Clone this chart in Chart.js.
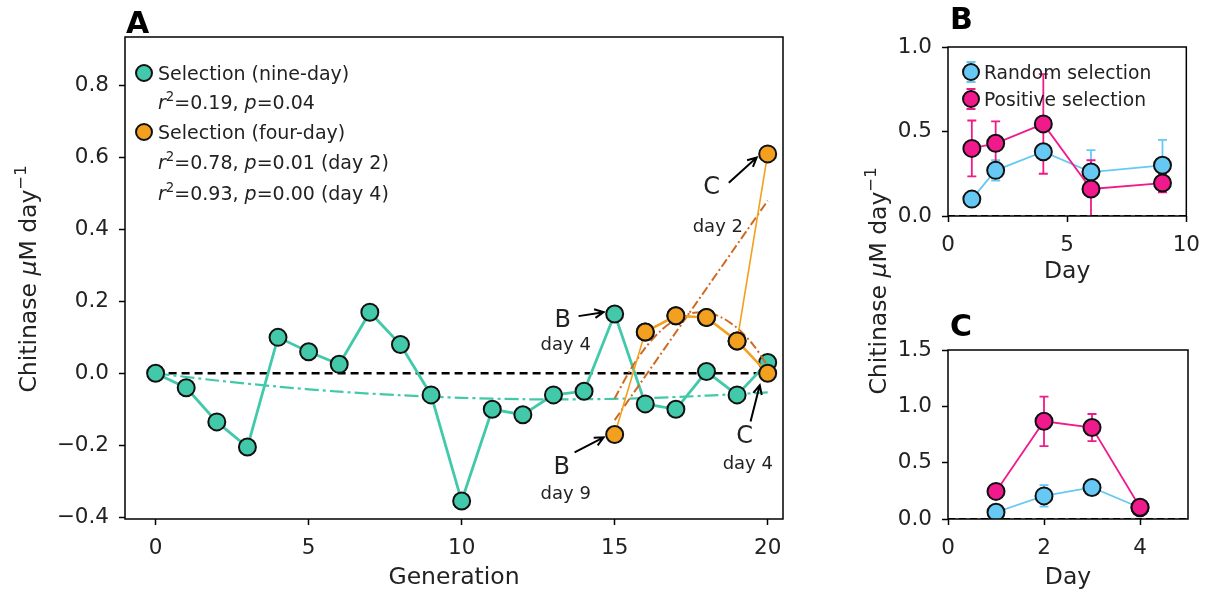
<!DOCTYPE html>
<html><head><meta charset="utf-8">
<script src="https://cdn.jsdelivr.net/npm/chart.js@4.4.1/dist/chart.umd.min.js"></script>
<style>
html,body{margin:0;padding:0;background:#fff;width:1211px;height:594px;overflow:hidden}
#wrap{position:relative;width:1211px;height:594px;background:#fff}
canvas{position:absolute}
</style></head><body>
<div id="wrap">
<canvas id="cA" width="1211" height="594" style="left:0;top:0"></canvas>
<canvas id="cB" width="331" height="297" style="left:880px;top:0"></canvas>
<canvas id="cC" width="331" height="297" style="left:880px;top:297px"></canvas>
</div>
<script>
// ---------------- data (panel A) ----------------
const generations = [0,1,2,3,4,5,6,7,8,9,10,11,12,13,14,15,16,17,18,19,20];
const nineDay = [0.0,-0.04,-0.135,-0.205,0.10,0.06,0.025,0.17,0.08,-0.06,-0.355,-0.10,-0.115,-0.06,-0.05,0.165,-0.085,-0.10,0.005,-0.06,0.03];
const nineFitGen = [0,2,4,6,8,10,12,14,16,18,20];
const nineFit = [0.0,-0.02,-0.037,-0.051,-0.061,-0.068,-0.072,-0.072,-0.069,-0.062,-0.053];
const fourDay2Gen = [15,16,17,18,19,20];
const fourDay2 = [-0.17,0.115,0.16,0.155,0.09,0.61];
const fourDay4Gen = [16,17,18,19,20];
const fourDay4 = [0.115,0.16,0.155,0.09,0.0];
const day2FitGen = [15,20];
const day2Fit = [-0.13,0.48];
const day4FitGen = [15,15.5,16,16.5,17,17.5,18,18.5,19,19.5,20];
const day4Fit = [-0.07,0.008,0.071,0.118,0.15,0.167,0.169,0.155,0.126,0.082,0.022];
const zeroGen = [0,20];
const zeroVal = [0,0];
const xTicksA = [0,5,10,15,20];
const yTicksA = [-0.4,-0.2,0.0,0.2,0.4,0.6,0.8];
// ---------------- data (panel B) ----------------
const daysB = [1,2,4,6,9];
const randomB = [0.10,0.27,0.38,0.26,0.30];
const randomBErr = [0.02,0.06,0.04,0.13,0.15];
const positiveB = [0.40,0.43,0.545,0.16,0.195];
const positiveBErr = [0.165,0.13,0.295,0.17,0.055];
const xTicksB = [0,5,10];
const yTicksB = [0.0,0.5,1.0];
// ---------------- data (panel C) ----------------
const daysC = [1,2,3,4];
const randomC = [0.06,0.205,0.28,0.10];
const randomCErr = [0.02,0.095,0.05,0.02];
const positiveC = [0.245,0.867,0.812,0.104];
const positiveCErr = [0.03,0.22,0.12,0.02];
const xTicksC = [0,2,4];
const yTicksC = [0.0,0.5,1.0,1.5];

// ---------------- styles ----------------
const FAM = '"DejaVu Sans", "Liberation Sans", sans-serif';
const GREEN = '#42c9aa', ORANGE = '#f3a01e', FITOR = '#cf6a25';
const PINK = '#f01a8c', BLUE = '#66c9f4';
const TXT = '#222';
const LABEL_SIZE = 23.5;

function fmt1(v){ const a = Math.abs(v) < 1e-9 ? 0 : v; return (a < 0 ? '\u2212' : '') + Math.abs(a).toFixed(1); }
function pts(xs, ys){ return xs.map((x,i)=>({x:x, y:ys[i]})); }

function fontStr(size, italic, bold){ return (italic?'italic ':'') + (bold?'bold ':'') + size + 'px ' + FAM; }
function measureRich(ctx, segs, size){
  let w = 0;
  for (const s of segs){ ctx.font = fontStr(s.s ? size*0.7 : size, s.i); w += ctx.measureText(s.t).width; }
  return w;
}
function drawRich(ctx, segs, x, y, size, align){
  const w = measureRich(ctx, segs, size);
  let cx = align === 'center' ? x - w/2 : x;
  const base = y + size*0.365;
  ctx.textBaseline = 'alphabetic'; ctx.textAlign = 'left';
  for (const s of segs){
    const sz = s.s ? size*0.7 : size;
    ctx.font = fontStr(sz, s.i);
    ctx.fillText(s.t, cx, s.s ? base - size*0.42 : base);
    cx += ctx.measureText(s.t).width;
  }
}
function arrow(ctx, x1, y1, x2, y2){
  const ang = Math.atan2(y2-y1, x2-x1), L = 10, sp = 0.45;
  ctx.beginPath(); ctx.moveTo(x1,y1); ctx.lineTo(x2,y2);
  ctx.moveTo(x2 - L*Math.cos(ang-sp), y2 - L*Math.sin(ang-sp)); ctx.lineTo(x2,y2);
  ctx.lineTo(x2 - L*Math.cos(ang+sp), y2 - L*Math.sin(ang+sp));
  ctx.stroke();
}
function marker(ctx, x, y, r, fill){
  ctx.beginPath(); ctx.arc(x,y,r,0,Math.PI*2); ctx.fillStyle = fill; ctx.fill();
  ctx.lineWidth = 2; ctx.strokeStyle = '#111'; ctx.stroke();
}
const yLabelSegs = [{t:'Chitinase '},{t:'\u03bc',i:1},{t:'M day'},{t:'\u22121',s:1}];

function axisOpts(min, max, tickArr, isX, fitSize, title, titlePad){
  return {
    type:'linear', min:min, max:max,
    afterBuildTicks: s => { s.ticks = tickArr.map(v=>({value:v})); },
    afterFit: s => { if (isX) s.height = fitSize; else s.width = fitSize; },
    grid:{display:true, drawOnChartArea:false, drawTicks:true, tickLength:6, tickColor:'#000', tickWidth:1.5},
    border:{display:false},
    ticks:{font:{family:FAM, size:21.5}, color:TXT, padding: isX ? 11 : 10, maxRotation:0, autoSkip:false,
      callback: v => isX ? String(v) : fmt1(v)},
    title: title ? {display:true, text:title, color:TXT, font:{family:FAM, size:LABEL_SIZE}, padding:{top:0,bottom:titlePad}} : {display:false}
  };
}

// ---------------- panel A ----------------
const annText = [
  {t:'B', x:13.3, y:0.153, size:24}, {t:'day 4', x:13.4, y:0.084, size:18},
  {t:'B', x:13.27, y:-0.256, size:24}, {t:'day 9', x:13.4, y:-0.331, size:18},
  {t:'C', x:18.17, y:0.524, size:24}, {t:'day 2', x:18.37, y:0.41, size:18},
  {t:'C', x:19.25, y:-0.17, size:24}, {t:'day 4', x:19.35, y:-0.248, size:18}
];
const annArrows = [[13.82,0.159,14.64,0.17],[13.69,-0.22,14.64,-0.178],[18.73,0.53,19.64,0.60],[19.44,-0.134,19.74,-0.033]];

const pluginA = {
  id:'pA',
  afterDraw(chart){
    const {ctx, chartArea:a, scales:{x, y}} = chart;
    ctx.save();
    ctx.strokeStyle = '#000'; ctx.lineWidth = 1.5;
    ctx.strokeRect(a.left, a.top, a.right-a.left, a.bottom-a.top);
    // panel letter
    ctx.fillStyle = '#000'; ctx.font = fontStr(30,false,true); ctx.textAlign='left'; ctx.textBaseline='alphabetic';
    ctx.fillText('A', 126, 33);
    // legend
    marker(ctx, 144, 73, 8, GREEN);
    marker(ctx, 144, 132, 8, ORANGE);
    ctx.fillStyle = TXT;
    drawRich(ctx, [{t:'Selection (nine-day)'}], 158, 73, 19, 'left');
    drawRich(ctx, [{t:'r',i:1},{t:'2',s:1},{t:'=0.19, '},{t:'p',i:1},{t:'=0.04'}], 158, 102, 19, 'left');
    drawRich(ctx, [{t:'Selection (four-day)'}], 158, 132, 19, 'left');
    drawRich(ctx, [{t:'r',i:1},{t:'2',s:1},{t:'=0.78, '},{t:'p',i:1},{t:'=0.01 (day 2)'}], 158, 162, 19, 'left');
    drawRich(ctx, [{t:'r',i:1},{t:'2',s:1},{t:'=0.93, '},{t:'p',i:1},{t:'=0.00 (day 4)'}], 158, 193, 19, 'left');
    // annotations
    for (const an of annText){
      drawRich(ctx, [{t:an.t}], x.getPixelForValue(an.x), y.getPixelForValue(an.y), an.size, 'center');
    }
    ctx.strokeStyle = '#000'; ctx.lineWidth = 2;
    for (const ar of annArrows){
      arrow(ctx, x.getPixelForValue(ar[0]), y.getPixelForValue(ar[1]), x.getPixelForValue(ar[2]), y.getPixelForValue(ar[3]));
    }
    // y labels (rotated)
    ctx.fillStyle = TXT;
    ctx.save(); ctx.translate(27, 279); ctx.rotate(-Math.PI/2); drawRich(ctx, yLabelSegs, 0, 0, LABEL_SIZE, 'center'); ctx.restore();
    ctx.save(); ctx.translate(877, 281); ctx.rotate(-Math.PI/2); drawRich(ctx, yLabelSegs, 0, 0, LABEL_SIZE, 'center'); ctx.restore();
    ctx.restore();
  }
};

new Chart(document.getElementById('cA'), {
  type:'scatter',
  data:{datasets:[
    {label:'Selection (four-day) day 4', data:pts(fourDay4Gen, fourDay4), showLine:true, borderColor:ORANGE, borderWidth:2.6,
      pointRadius:8.5, pointBackgroundColor:ORANGE, pointBorderColor:'#111', pointBorderWidth:2},
    {label:'Selection (four-day) day 2', data:pts(fourDay2Gen, fourDay2), showLine:true, borderColor:ORANGE, borderWidth:1.6,
      pointRadius:8.5, pointBackgroundColor:ORANGE, pointBorderColor:'#111', pointBorderWidth:2},
    {label:'fit day 4', data:pts(day4FitGen, day4Fit), showLine:true, borderColor:FITOR, borderWidth:2, borderDash:[9,3,2,3], pointRadius:0, tension:0.3},
    {label:'fit day 2', data:pts(day2FitGen, day2Fit), showLine:true, borderColor:FITOR, borderWidth:2, borderDash:[9,3,2,3], pointRadius:0},
    {label:'Selection (nine-day)', data:pts(generations, nineDay), showLine:true, borderColor:GREEN, borderWidth:2.8,
      pointRadius:8.5, pointBackgroundColor:GREEN, pointBorderColor:'#111', pointBorderWidth:2},
    {label:'fit nine-day', data:pts(nineFitGen, nineFit), showLine:true, borderColor:GREEN, borderWidth:2.2, borderDash:[14,4,3,4], pointRadius:0, tension:0.3},
    {label:'zero', data:pts(zeroGen, zeroVal), showLine:true, borderColor:'#000', borderWidth:2.4, borderDash:[8,5], pointRadius:0}
  ]},
  options:{
    responsive:false, animation:false, devicePixelRatio:1,
    layout:{padding:{left:0, top:37, right:428, bottom:0}},
    plugins:{legend:{display:false}, tooltip:{enabled:false}},
    scales:{
      x: axisOpts(-1, 20.5, xTicksA, true, 75, 'Generation', 2),
      y: axisOpts(-0.405, 0.935, yTicksA, false, 125)
    }
  },
  plugins:[pluginA]
});

// ---------------- panels B and C ----------------
function makeSmallPlugin(letter, letterY, errSets, legend){
  return {
    id:'p'+letter,
    beforeDatasetsDraw(chart){
      const {ctx, chartArea:a, scales:{x, y}} = chart;
      ctx.save();
      ctx.beginPath(); ctx.rect(a.left, a.top-2, a.right-a.left, a.bottom-a.top+2); ctx.clip();
      ctx.strokeStyle = '#000'; ctx.lineWidth = 2; ctx.setLineDash([7,4]);
      ctx.beginPath(); ctx.moveTo(a.left, y.getPixelForValue(0)); ctx.lineTo(a.right, y.getPixelForValue(0)); ctx.stroke();
      ctx.setLineDash([]);
      for (const es of errSets){
        ctx.strokeStyle = es.color; ctx.lineWidth = 1.8;
        es.xs.forEach((d,i)=>{
          const px = x.getPixelForValue(d);
          const y1 = y.getPixelForValue(es.ys[i]-es.err[i]), y2 = y.getPixelForValue(es.ys[i]+es.err[i]);
          ctx.beginPath(); ctx.moveTo(px,y1); ctx.lineTo(px,y2);
          ctx.moveTo(px-4.5,y1); ctx.lineTo(px+4.5,y1); ctx.moveTo(px-4.5,y2); ctx.lineTo(px+4.5,y2); ctx.stroke();
        });
      }
      ctx.restore();
    },
    afterDraw(chart){
      const {ctx, chartArea:a} = chart;
      ctx.save();
      ctx.strokeStyle = '#000'; ctx.lineWidth = 1.5;
      ctx.strokeRect(a.left, a.top, a.right-a.left, a.bottom-a.top);
      ctx.fillStyle = '#000'; ctx.font = fontStr(30,false,true); ctx.textAlign='left'; ctx.textBaseline='alphabetic';
      ctx.fillText(letter, 70, letterY);
      if (legend){
        legend.forEach((it,i)=>{
          const cy = 72 + i*27, cx = 91;
          ctx.strokeStyle = it.color; ctx.lineWidth = 1.8;
          ctx.beginPath(); ctx.moveTo(cx, cy-10); ctx.lineTo(cx, cy+10);
          ctx.moveTo(cx-4.5, cy-10); ctx.lineTo(cx+4.5, cy-10); ctx.moveTo(cx-4.5, cy+10); ctx.lineTo(cx+4.5, cy+10); ctx.stroke();
          marker(ctx, cx, cy, 8, it.color);
          ctx.fillStyle = TXT;
          drawRich(ctx, [{t:it.label}], 104, cy, 18.7, 'left');
        });
      }
      ctx.restore();
    }
  };
}
function smallDatasets(xs, pos, rnd){
  return [
    {label:'Positive selection', data:pts(xs,pos), showLine:true, borderColor:PINK, borderWidth:1.8,
      pointRadius:8.5, pointBackgroundColor:PINK, pointBorderColor:'#111', pointBorderWidth:2},
    {label:'Random selection', data:pts(xs,rnd), showLine:true, borderColor:BLUE, borderWidth:1.8,
      pointRadius:8.5, pointBackgroundColor:BLUE, pointBorderColor:'#111', pointBorderWidth:2}
  ];
}

new Chart(document.getElementById('cB'), {
  type:'scatter',
  data:{datasets: smallDatasets(daysB, positiveB, randomB)},
  options:{
    responsive:false, animation:false, devicePixelRatio:1,
    layout:{padding:{left:0, top:47, right:23, bottom:0}},
    plugins:{legend:{display:false}, tooltip:{enabled:false}},
    scales:{
      x: axisOpts(0, 10, xTicksB, true, 81, 'Day', 11),
      y: axisOpts(0, 1, yTicksB, false, 68)
    }
  },
  plugins:[makeSmallPlugin('B', 29, [
    {xs:daysB, ys:randomB, err:randomBErr, color:BLUE},
    {xs:daysB, ys:positiveB, err:positiveBErr, color:PINK}
  ], [{label:'Random selection', color:BLUE},{label:'Positive selection', color:PINK}])]
});

new Chart(document.getElementById('cC'), {
  type:'scatter',
  data:{datasets: smallDatasets(daysC, positiveC, randomC)},
  options:{
    responsive:false, animation:false, devicePixelRatio:1,
    layout:{padding:{left:0, top:53, right:23, bottom:0}},
    plugins:{legend:{display:false}, tooltip:{enabled:false}},
    scales:{
      x: axisOpts(0, 5, xTicksC, true, 75, 'Day', 2),
      y: axisOpts(0, 1.5, yTicksC, false, 68)
    }
  },
  plugins:[makeSmallPlugin('C', 39, [
    {xs:daysC, ys:randomC, err:randomCErr, color:BLUE},
    {xs:daysC, ys:positiveC, err:positiveCErr, color:PINK}
  ], null)]
});
</script>
</body></html>
